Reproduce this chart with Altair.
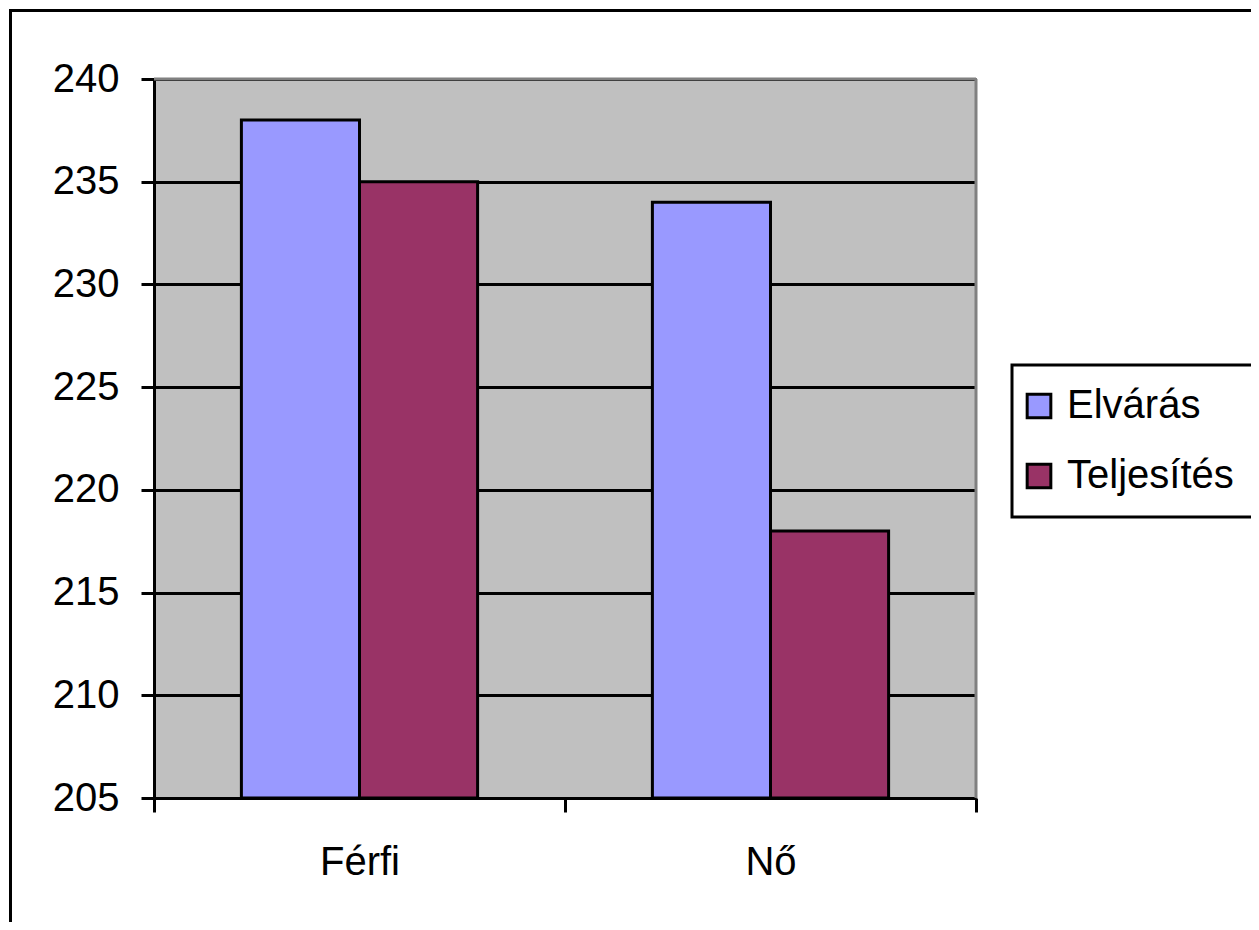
import altair as alt
import pandas as pd

categories = ["Férfi", "Nő"]
series = ["Elvárás", "Teljesítés"]
elvaras = [238, 234]
teljesites = [235, 218]
y_ticks = [205, 210, 215, 220, 225, 230, 235, 240]
colors = ["#9999FF", "#993366"]

rows = []
for i, c in enumerate(categories):
    rows.append({"cat": c, "series": series[0], "value": elvaras[i]})
    rows.append({"cat": c, "series": series[1], "value": teljesites[i]})
df = pd.DataFrame(rows)

W, H = 822, 719
FONT = "Liberation Sans"

bars = alt.Chart(df).mark_bar(stroke="black", strokeWidth=3).encode(
    x=alt.X("cat:N", sort=categories,
            scale=alt.Scale(paddingInner=0, paddingOuter=0),
            axis=alt.Axis(title=None, labelAngle=0, tickBand="extent",
                          tickSize=14, tickWidth=3, tickColor="black",
                          domainColor="black", domainWidth=3,
                          labelFontSize=40, labelFont=FONT, labelColor="black",
                          labelPadding=30)),
    xOffset=alt.XOffset("series:N", sort=series,
                        scale=alt.Scale(paddingOuter=0.74, paddingInner=0)),
    y=alt.Y("value:Q", scale=alt.Scale(domain=[205, 240], nice=False, zero=False),
            axis=alt.Axis(title=None, values=y_ticks, grid=True,
                          gridColor="black", gridWidth=3, gridOpacity=1,
                          tickSize=13, tickWidth=3, tickColor="black",
                          domainColor="black", domainWidth=3,
                          labelFontSize=40, labelFont=FONT, labelColor="black",
                          labelPadding=22)),
    y2=alt.datum(205),
    color=alt.Color("series:N", sort=series,
                    scale=alt.Scale(domain=series, range=colors),
                    legend=alt.Legend(title=None, orient="none",
                                      legendX=858, legendY=286,
                                      symbolType="square", symbolSize=560,
                                      symbolStrokeColor="black", symbolStrokeWidth=3,
                                      symbolOpacity=1, symbolOffset=-14,
                                      labelFontSize=40, labelFont=FONT, labelColor="black",
                                      labelLimit=400,
                                      labelOffset=8, rowPadding=30, padding=21,
                                      strokeColor="black")),
)

frame_data = alt.Data(values=[{"k": 1}])
top_border = alt.Chart(frame_data).mark_rule(color="#808080", strokeWidth=3).encode(
    x=alt.value(0), x2=alt.value(W), y=alt.value(0))
right_border = alt.Chart(frame_data).mark_rule(color="#808080", strokeWidth=3).encode(
    x=alt.value(W), y=alt.value(0), y2=alt.value(H))
outer = alt.Chart(frame_data).mark_rect(filled=False, stroke="black", strokeWidth=3).encode(
    x=alt.value(-143.5), x2=alt.value(W + 600), y=alt.value(-68.5), y2=alt.value(H + 600))

chart = alt.layer(bars, top_border, right_border, outer).properties(
    width=W, height=H,
    autosize=alt.AutoSizeParams(type="none"),
    padding={"left": 146, "top": 71, "right": 275, "bottom": 124},
    background="white",
).configure_view(stroke=None, fill="#C0C0C0").configure_legend(strokeWidth=3)

chart.save("out.html", embed_options={"renderer": "svg", "actions": False})
